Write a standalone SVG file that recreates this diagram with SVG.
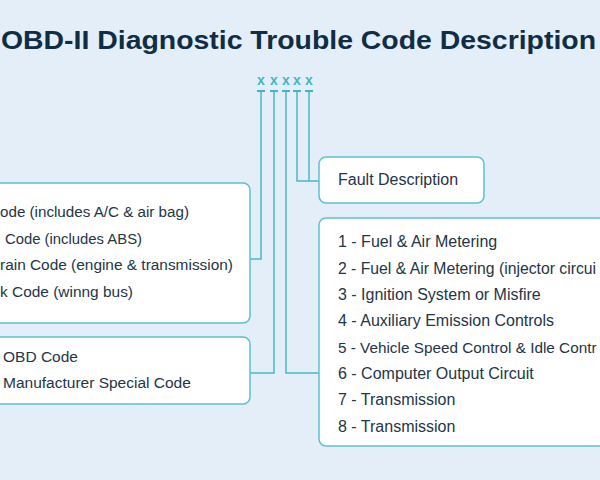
<svg xmlns="http://www.w3.org/2000/svg" width="600" height="480" viewBox="0 0 600 480">
<style>
.bg{fill:#e4eef9}
.title{font-family:"Liberation Sans",Arial,sans-serif;font-weight:bold;font-size:25px;fill:#0f2d45}
.box{fill:#ffffff;stroke:#5cc1d0;stroke-width:1.5}
.t{font-family:"Liberation Sans",Arial,sans-serif;font-size:16px;fill:#243546}
.tl{font-family:"Liberation Sans",Arial,sans-serif;font-size:15.5px;fill:#243546}
.x{font-family:"Liberation Sans",Arial,sans-serif;font-size:14px;font-weight:bold;fill:#3fb5c7;text-anchor:middle}
.tick{fill:#3fb5c7}
.conn{fill:none;stroke:#48b8c8;stroke-width:1.5}
</style>
<rect class="bg" x="0" y="0" width="600" height="480"/>
<text id="title" class="title" x="1" y="49" textLength="595" lengthAdjust="spacingAndGlyphs">OBD-II Diagnostic Trouble Code Description</text>
<g id="code">
<text class="x" x="261" y="85">x</text>
<text class="x" x="274" y="85">x</text>
<text class="x" x="286" y="85">x</text>
<text class="x" x="297" y="85">x</text>
<text class="x" x="309" y="85">x</text>
<rect class="tick" x="257" y="90" width="8" height="2"/>
<rect class="tick" x="270" y="90" width="8" height="2"/>
<rect class="tick" x="282" y="90" width="8" height="2"/>
<rect class="tick" x="293" y="90" width="8" height="2"/>
<rect class="tick" x="305" y="90" width="8" height="2"/>
</g>
<g id="connectors">
<path class="conn" d="M261,91 V259 H250"/>
<path class="conn" d="M274,91 V373 H250"/>
<path class="conn" d="M286,91 V373 H319"/>
<path class="conn" d="M297,91 V181 H319"/>
<path class="conn" d="M309,91 V181"/>
</g>
<g id="system">
<rect class="box" x="-10" y="183" width="260" height="140" rx="7"/>
<text class="tl" x="0" y="217" textLength="189" lengthAdjust="spacingAndGlyphs">ode (includes A/C &amp; air bag)</text>
<text class="tl" x="5" y="244" textLength="137" lengthAdjust="spacingAndGlyphs">Code (includes ABS)</text>
<text class="tl" x="0" y="270" textLength="233" lengthAdjust="spacingAndGlyphs">rain Code (engine &amp; transmission)</text>
<text class="tl" x="0" y="297" textLength="133" lengthAdjust="spacingAndGlyphs">k Code (winng bus)</text>
</g>
<g id="type">
<rect class="box" x="-10" y="337" width="260" height="67" rx="7"/>
<text class="tl" x="3" y="362">OBD Code</text>
<text class="tl" x="3" y="388">Manufacturer Special Code</text>
</g>
<g id="fault">
<rect class="box" x="319" y="157" width="165" height="46" rx="7"/>
<text class="t" x="338" y="185">Fault Description</text>
</g>
<g id="subsystem">
<rect class="box" x="319" y="218" width="300" height="228" rx="7"/>
<text class="t" x="338" y="247">1 - Fuel &amp; Air Metering</text>
<text class="t" x="338" y="274" textLength="258" lengthAdjust="spacingAndGlyphs">2 - Fuel &amp; Air Metering (injector circui</text>
<text class="t" x="338" y="300">3 - Ignition System or Misfire</text>
<text class="t" x="338" y="326">4 - Auxiliary Emission Controls</text>
<text class="t" x="338" y="353" style="font-size:15.3px">5 - Vehicle Speed Control &amp; Idle Contr</text>
<text class="t" x="338" y="379">6 - Computer Output Circuit</text>
<text class="t" x="338" y="405">7 - Transmission</text>
<text class="t" x="338" y="432">8 - Transmission</text>
</g>
</svg>
